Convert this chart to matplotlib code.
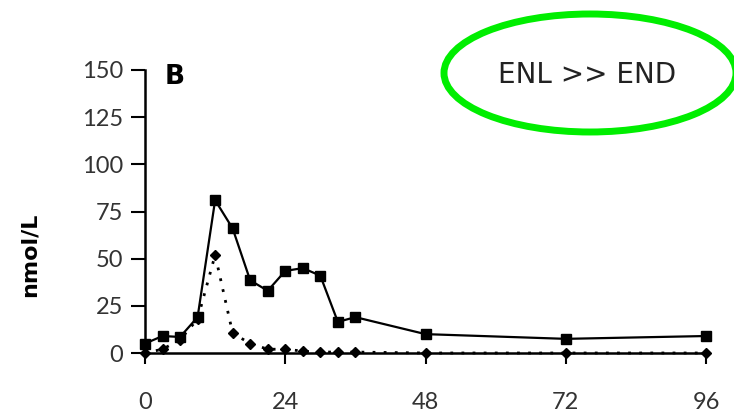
import matplotlib
matplotlib.use("Agg")
import matplotlib.pyplot as plt
from matplotlib.patches import Ellipse

# time points (hours) and concentrations (nmol/L)
hours_enl = [0, 3, 6, 9, 12, 15, 18, 21, 24, 27, 30, 33, 36, 48, 72, 96]
enl = [5, 9, 8.5, 19, 81, 66, 38.5, 33, 43.5, 45, 41, 16.5, 19, 10, 7.5, 9]

hours_end = [0, 3, 6, 9, 12, 15, 18, 21, 24, 27, 30, 33, 36, 48, 72, 96]
end = [0, 2, 7, 18, 52, 10.5, 5, 2, 2, 1, 0.5, 0.5, 0.5, 0, 0, 0]

x_ticks = [0, 24, 48, 72, 96]
y_ticks = [0, 25, 50, 75, 100, 125, 150]

fig = plt.figure(figsize=(7.34, 4.13), dpi=100)
ax = fig.add_axes([145 / 734, 1 - 353 / 413, 561 / 734, 283 / 413])

# dotted line with diamonds, then solid line with squares on top
ax.plot(hours_end, end, color="black", linestyle=(0, (1, 3)), linewidth=2,
        marker="D", markersize=5.5, clip_on=False, zorder=3)
ax.plot(hours_enl, enl, color="black", linestyle="-", linewidth=1.6,
        marker="s", markersize=7, clip_on=False, zorder=4)

ax.set_xlim(0, 96)
ax.set_ylim(0, 150)
ax.set_xticks(x_ticks)
ax.set_yticks(y_ticks)

for side in ["top", "right"]:
    ax.spines[side].set_visible(False)
ax.spines["left"].set_linewidth(1.8)
ax.spines["bottom"].set_linewidth(1.8)

ax.tick_params(axis="x", length=8, width=1.5, pad=20, labelsize=15, labelcolor="#333333")
ax.tick_params(axis="y", length=10, width=1.5, pad=6, labelsize=15, labelcolor="#333333")
for lab in ax.get_xticklabels() + ax.get_yticklabels():
    lab.set_family("Lato")
    lab.set_fontsize(17)

# y label placed at its position in the reference
fig.text(30 / 734, 1 - 255 / 413, "nmol/L", fontsize=16, fontweight="bold",
         rotation=90, ha="center", va="center")

# panel letter
fig.text(175 / 734, 1 - 77 / 413, "B", fontsize=19, fontweight="bold",
         ha="center", va="center")

# green ellipse with annotation
ell = Ellipse((590 / 734, 1 - 73 / 413), 292 / 734, 118 / 413,
              transform=fig.transFigure, fill=False, edgecolor="#00ee00",
              linewidth=5)
fig.add_artist(ell)
fig.text(587 / 734, 1 - 75 / 413, "ENL >> END", fontsize=20,
         color="#222222", ha="center", va="center")

fig.savefig("out.png", dpi=100)
